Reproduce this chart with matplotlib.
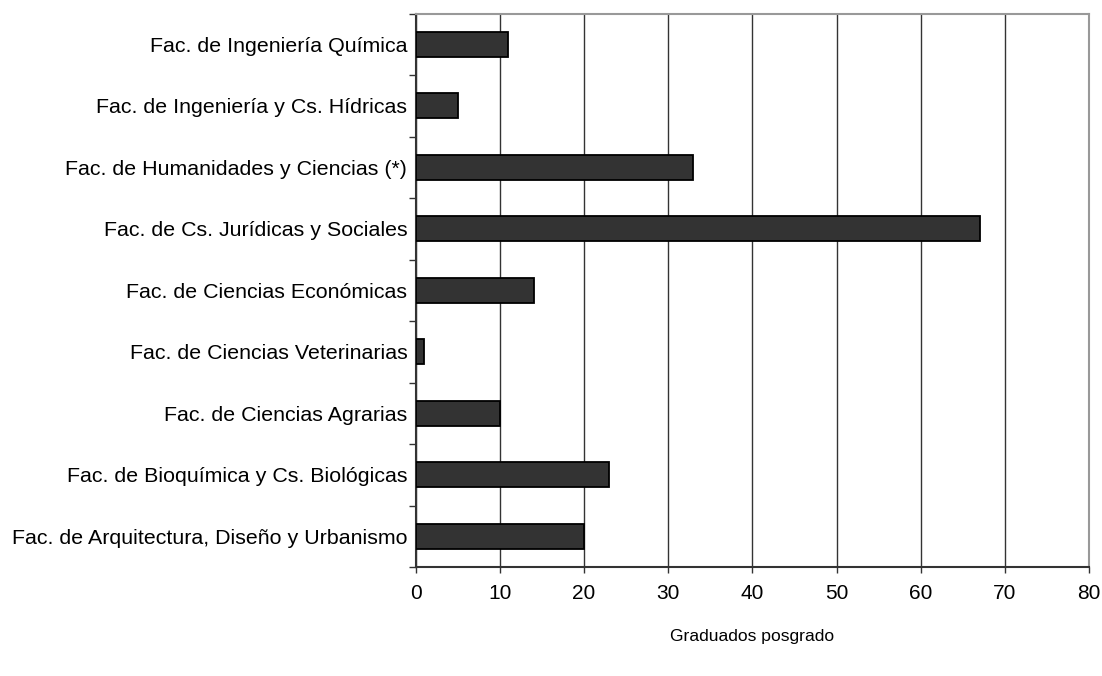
import numpy as np
import matplotlib
matplotlib.use("Agg")
import matplotlib.pyplot as plt

plt.rcParams['font.family'] = ['Liberation Sans', 'DejaVu Sans']

# data, bottom to top
facultades = [
    "Fac. de Arquitectura, Diseño y Urbanismo",
    "Fac. de Bioquímica y Cs. Biológicas",
    "Fac. de Ciencias Agrarias",
    "Fac. de Ciencias Veterinarias",
    "Fac. de Ciencias Económicas",
    "Fac. de Cs. Jurídicas y Sociales",
    "Fac. de Humanidades y Ciencias (*)",
    "Fac. de Ingeniería y Cs. Hídricas",
    "Fac. de Ingeniería Química",
]
graduados = [20, 23, 10, 1, 14, 67, 33, 5, 11]
x_ticks = [0, 10, 20, 30, 40, 50, 60, 70, 80]

fig = plt.figure(figsize=(11.02, 6.76), dpi=100)
ax = fig.add_axes([415.7 / 1102, 1 - 567 / 676, (1089 - 415.7) / 1102, (567 - 13.5) / 676])

y = np.arange(len(facultades))
ax.barh(y, graduados, height=0.4, color='#333333', edgecolor='black', linewidth=1.3, zorder=3)

ax.set_xlim(0, 80)
ax.set_ylim(-0.5, len(facultades) - 0.5)
ax.set_xticks(x_ticks)
ax.set_xticklabels([str(t) for t in x_ticks], fontsize=15)
ax.tick_params(axis='x', length=4, width=1, color='#333333', pad=8)

# category labels centered, ticks at boundaries
ax.set_yticks(np.arange(-0.5, len(facultades)), minor=False)
ax.set_yticklabels([])
ax.set_yticks(y, minor=True)
ax.set_yticklabels(facultades, minor=True, fontsize=15.4)
ax.tick_params(axis='y', which='minor', length=0, pad=6)
ax.tick_params(axis='y', which='major', length=5, width=1, color='#333333')

ax.grid(axis='x', color='#333333', linewidth=1, zorder=0)
for s in ['top', 'right']:
    ax.spines[s].set_color('#999999')
    ax.spines[s].set_linewidth(1.5)
for s in ['left', 'bottom']:
    ax.spines[s].set_color('#333333')
    ax.spines[s].set_linewidth(1.5)

ax.set_xlabel("Graduados posgrado", fontsize=12.6, labelpad=19)

fig.savefig("out.png", dpi=100)
